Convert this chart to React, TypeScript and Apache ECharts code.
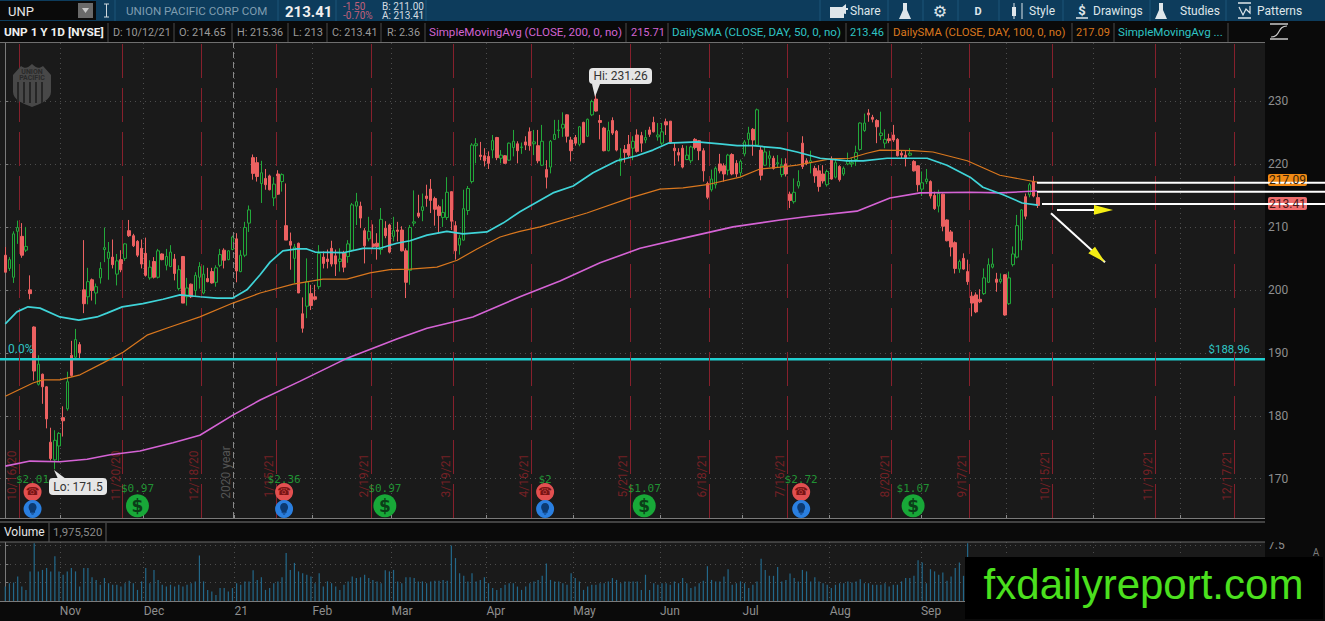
import React, { useEffect, useRef } from "react";
import * as echarts from "echarts";

// One row per trading session, in order: [open, close, low, high]
const ohlc: number[][] = [
[205.5,202.8,202.8,206.8],[203.4,204.8,203,205.2],[202,208.9,201.1,209.3],[209.3,209.9,207.3,211],[208.5,205.5,205.1,210.6],[206.3,206.9,206,210],[200,199.4,198.5,202.3],[194.1,187.1,185.6,194.2],[185,188.2,184.8,189.6],[186.6,184.6,181.9,186.7],
[184.6,179.5,178,184.7],[175.8,173.2,172.9,178.1],[173,176.1,171.5,177.7],[175.2,177.2,172.8,177.4],[179.7,179.2,176.7,181.5],[181.1,185.4,180.8,187],[189.6,186.4,186.2,191.9],[189.3,192.1,189,193.8],[191.3,190,188.9,191.7],[200,197.8,196.3,207.9],
[198.9,201.3,197.7,203.5],[201.6,199.9,198.3,201.8],[199.5,200.5,197.7,201],[201.9,203.4,201,204.4],[206.4,206.7,204.4,209.9],[205,206,201.6,207.6],[205.2,204,203.4,208],[202.5,204.6,200.7,205.7],[204.8,203.2,202.8,206.3],[205,207.3,204.6,207.4],
[209.4,208.6,208.4,211.1],[208.6,207,206.8,208.9],[207.7,205.5,205.2,207.9],[206.6,204.1,203.4,208],[205.8,202.3,202.1,208.3],[201.9,203.6,201.6,204.7],[204.5,202,201.8,205.2],[202,206.2,201.8,206.5],[205.7,204.8,204.7,205.8],[203.9,205.3,203.1,206.5],
[203.7,206,203.6,207.1],[204.9,202.6,201.5,205.7],[200.2,203.2,199.9,203.9],[205.3,197.9,197.9,205.3],[198.9,200.3,197.5,201.9],[200.9,198.9,198.7,201],[199.9,202.3,199,202.8],[202,203.7,200.2,204.4],[199.5,202.5,199.3,203.9],[201.8,201.3,201.2,203.5],
[202.9,201.1,201,203.5],[201.2,203.5,200.5,203.9],[203.9,205.6,203.6,206.5],[206.3,204.7,203.4,206.6],[204.8,206.2,204.7,206.3],[206.4,208.4,206.3,208.6],[208.1,203,201.2,209],[202.9,205.5,202.8,206.3],[205.5,209.9,205.2,210.8],[210.6,212.7,209.2,213.4],
[221,218.5,217.5,221.5],[220.2,218,217.2,221.1],[216.9,218.6,213.8,220.5],[217.7,216.7,215.9,219.2],[218.1,215.9,215.8,218.3],[214.6,216.8,213.3,217.9],[218.4,215.2,215.1,219],[217.2,218.3,215.6,218.5],[210.2,207.9,207.9,216.9],[207.7,207.1,203.2,209.1],
[205,206.8,201.1,207.3],[207.4,199.5,199.5,207.5],[196.2,193.9,193.2,198.8],[197.4,201.3,195.5,205],[199.4,197.5,196.8,200.8],[198.9,198.5,198.3,200.8],[200.5,205.8,200.1,207.1],[205.2,204.2,203.4,206.1],[204.9,204.5,203.4,206.4],[206.6,204.1,203.7,207.8],
[205.4,204.1,202.2,206.4],[204.5,204.9,202.9,206.6],[205.9,203.6,202.8,206.2],[205.3,207.3,204.3,207.9],[206.3,213.5,206.1,213.8],[213.3,214,210.3,215.4],[213.3,211.4,209.8,214],[209.4,207,204.2,209.8],[208.1,209.3,207.7,211.6],[207.3,206.9,206.6,210.4],
[207.4,206.9,204.8,209],[206.4,211.2,205.6,213],[209.8,208.6,208.2,210.9],[210.3,206,205.8,210.5],[208.5,209.4,207.7,211.6],[209.5,209.3,207.7,210.8],[209.5,206.2,206.1,210.1],[206.2,201.2,198.7,206.6],[203.1,209.9,200.8,210.3],[210.6,210.8,210.1,215.8],
[212.2,211.7,211.4,215.1],[212.6,213.2,210.9,215.3],[214.9,214.5,213.2,216.7],[216,214.2,212.2,217.6],[214.5,212.8,210.2,214.8],[213.2,211.8,209,213.5],[211.5,212.3,210,214.4],[211.5,215.5,211.1,217.9],[215.6,210.9,209.5,215.6],[210.2,206.2,204.8,210.9],
[207.1,208.2,205.6,208.7],[207.9,212.9,207.8,215.9],[212.6,216.1,211.9,216.5],[217.2,223,216.9,223.3],[222.9,223.2,220.1,224.1],[221.4,221.2,220.6,223.5],[221.3,220.5,219.6,222.5],[221.2,220.1,219.2,222],[222.2,223.7,220.9,224.6],[224.2,221,220.6,224.3],
[220.9,221.4,220.1,222.2],[221.3,220.1,220,221.4],[220.6,223.3,220.5,223.4],[222.6,223.6,221.2,225.4],[223.2,222.1,220.1,223.6],[222.6,222.7,221.6,223.4],[223.5,223,222.2,224.4],[225.1,222.9,222.1,225.8],[223.2,223.5,221.4,225.4],[222.9,220.5,220.1,225.4],
[219.8,223.6,219.7,226.2],[219.1,217.9,216.1,220.6],[219.5,223.6,218.5,223.8],[223.9,224.7,223.8,227],[225.3,225.4,224.1,227],[225.7,226.3,224.3,228.2],[227.8,224.4,223.4,227.9],[223.8,222.1,220.4,224.3],[224.2,223.3,222.9,224.6],[223.1,225.9,222.8,226],
[226.6,223.4,223.3,226.7],[224.4,227.1,224.3,227.2],[227.8,229.9,227.6,230.2],[230.3,228.4,228.3,231.26],[226.9,226.6,223.9,227.8],[225.7,222.1,222,225.9],[222.1,225.3,222,226.7],[226.9,224.9,224.6,227.4],[225.2,222.2,222,225.4],[220.4,220.9,218.1,222.5],
[222.3,221.8,220.2,223],[223.1,221.4,221.1,224.6],[222.5,223.6,220.6,224.4],[224.6,222,221.8,225.5],[224.5,223.3,221.9,225.1],[223.8,224.2,223.3,225.4],[225.4,224.7,224.3,225.9],[226.6,225.1,225,227.5],[224.3,224.6,223.7,226.5],[223.3,225.1,223,226.5],
[226.7,226.2,224.6,227.2],[226.8,223.4,223.2,226.8],[222.5,222.1,219.7,223.3],[221.8,221.4,220.4,222.5],[222.5,219.5,219.3,223],[220.7,221.4,220.6,222.9],[220.5,222.7,220.1,222.9],[223.9,222.6,222.3,224.1],[223.7,222.1,220.6,223.8],[222.1,218.9,217.2,222.5],
[216.9,214.7,214.4,217.2],[215.9,217.6,215.6,219.1],[216.7,219.3,216.1,219.6],[220,218.9,218.5,221.6],[219.7,218.4,217.2,220.1],[219,221.4,218.2,221.6],[221.5,218.4,218.2,221.7],[220.1,218.4,217.9,220.6],[218.6,220.4,218,220.7],[221.6,223.5,221.2,223.8],
[223.9,224.9,222.8,225.9],[225.5,223.8,221.3,225.7],[223,228.6,222.8,228.8],[222.2,218.2,217.4,222.8],[219.8,221.9,219.7,222.8],[220.9,221.3,219.5,222.1],[220.9,219.3,219.1,221.3],[220,220.2,219.5,221.4],[218.3,219.8,217.9,220.9],[220,218.4,218,220.9],
[215.2,214.2,213,215.6],[214,215.5,213.7,217.7],[216.5,217.2,216.1,219],[223.3,219.6,219.2,224.4],[220.5,220.1,219.8,220.9],[220.2,220.5,218.5,222.1],[219.3,218.1,217,219.7],[218.9,216.4,215.6,219.8],[218.4,217.3,216.9,219.8],[216.7,218.8,216.4,219.1],
[220.7,217.6,217.5,221.2],[217.9,220.2,217.7,220.9],[219.6,217.5,217.2,219.8],[218.4,219.3,218.1,219.6],[220,220.5,219.8,221.8],[220,220.2,219.5,220.9],[220.7,221.8,219.7,222.9],[222.3,226.5,222.1,226.6],[225.3,226.5,225.1,228],[228.1,227.8,226.7,228.7],
[227.4,227.1,226.6,227.8],[226.9,225.9,223.3,227.1],[224.5,224.9,223.8,228.3],[223.3,223.9,222.5,225.5],[224,223.7,223.3,224.8],[224.6,223.8,223.5,226.2],[223.9,221.3,221.2,224.1],[221.7,221.4,220.9,222.2],[221.4,221,219.6,222.2],[221.4,221.7,221.2,222.5],
[220.4,218.9,218.8,220.6],[219.7,216.7,215.6,219.8],[216,217,214.9,218.8],[217.2,217.6,216.8,219.2],[217.2,214.9,214.5,217.4],[215,212.9,212.7,215.6],[213.3,215.3,212.3,215.9],[215.2,210.1,209.3,215.3],[211.1,207.8,207.7,211.2],[209.2,206.8,205.3,209.5],
[207.5,203.4,202.6,207.7],[203.3,204.5,202.7,204.8],[205,203.3,203.2,205.8],[202.9,201.3,200.8,204.8],[199,197.9,195.8,199.7],[199.2,196.5,196.3,199.6],[198.5,198.1,197.9,200.1],[199.4,201.9,199.2,203.4],[201.2,204,201.1,205],[203.6,204.1,203.4,206.6],
[201.7,201.2,199.7,202.7],[201.3,201.7,201,202.6],[202.4,196,195.9,202.5],[197.8,201.9,197.6,202.9],[204,205.7,203.7,206.9],[205.2,210.2,205,211.9],[207.9,212.7,206.3,212.8],[214.8,211.7,211.2,215.3],[215.1,216.7,214.7,217],[217.2,214.9,214.7,218.1],
[214.65,213.41,213,215.36],
];

// Volume in millions of shares, one value per session
const volumeM: number[] = [
1.95,2.4,2.5,3.3,1.95,1.5,4,7.8,4,4.2,4.45,4,6.05,4,3.55,4,4.45,4,1.95,4.45,
4.45,3.2,2.85,2.2,3.1,2.4,2.2,2.2,1.95,2.4,2.75,2.4,1.5,2.65,4.45,2.4,4.2,2.85,2.2,1.95,
2.2,1.95,2.2,1.95,2.2,2.4,2.65,6.15,2.65,1.5,1.3,0.8,1.75,1.75,1.3,1.75,2.4,2.2,2.65,2.65,
4.15,2.85,3.2,1.5,1.75,2.4,2.65,3.2,6.5,4.2,5.15,4,3.75,3.55,3.3,2.4,3.75,1.95,2.65,2.4,
1.95,1.5,
2.2,2.65,3.3,3.1,3.2,3.55,3.1,2.85,2.65,2.4,4.15,4,4.2,2.65,2.4,3.2,3.2,3.1,2.65,2.65,
2.4,2.65,2.75,2.75,2.85,2.75,7.5,5.8,3.75,3.4,2.65,3.75,2.65,2.85,3.2,2.4,1.75,1.5,1.75,2.2,
2.4,2.4,1.95,1.5,1.95,2.4,2.65,2.85,3.4,5.05,2.85,2.65,2.65,2.4,2.2,3.75,3.1,2.65,1.5,1.95,
2.2,2.2,2.4,2.4,2.65,3.1,2.85,2.4,2.65,2.65,2.65,2.65,1.5,3.55,1.5,2.4,2.2,2.4,2.4,2.2,
2.65,2.4,
3.1,2.4,1.75,1.95,2.4,2.75,4.7,2.85,2.65,2.65,3.3,4.3,2.2,2.4,2.65,2.4,1.75,2.2,2.65,5.7,
4.2,3.4,3.4,4.6,2.65,2.85,3.7,3.1,2.65,4.2,4,2.65,3.2,2.65,2.4,2.2,1.75,2.2,2.4,2.4,
2.65,2.5,2.65,2.95,2.4,2.4,2.2,2.2,2.2,2.4,1.95,2.2,2.2,2.65,3.1,3.1,3.4,5.5,5.2,2.4,
4.3,4,3.55,3.85,2.75,3.3,4.45,5.2,3.4,7.8,
3.1,2.9,2.8,2.5,2.3,2.2,2.4,3,2.6,2.3,2.6,3,2.7,2.4,2.2,2.3,1.98,
];

// Moving averages, read as [session index, price]
const sma50: number[][] = [[0,194.6],[2.8,196.5],[5.5,197.3],[8.4,197.1],[13.2,195.7],[17.8,195.2],[22.2,195.7],[24.6,196.3],[28.3,197.3],[33.3,197.8],[38.2,198.5],[42.3,199.2],[47.1,198.9],[51.3,198.7],[55.1,198.7],[58.5,200],[61.7,202.4],[64.1,204.4],[67.2,206.2],[70.6,206.5],[73,206.5],[75,206],[81.8,205.9],[86.6,206.6],[90.7,206.6],[94.8,207.4],[98,207.8],[102.1,208.7],[106.9,209.3],[110.8,208.9],[116.6,209.2],[120.5,210.6],[124.6,212.4],[132.6,215.4],[137.5,216.5],[142.3,218.6],[148.1,220.5],[152.9,221.3],[156.8,222.2],[160.5,223.3],[167.5,223.5],[173,223.2],[177.2,222.9],[181,222.9],[187.6,222.5],[191.7,221.9],[197.3,220.9],[203.8,220.5],[207.7,220.5],[213.5,220.9],[223.2,220.9],[228,219.8],[233.6,217.9],[236.7,216.3],[241.6,215.1],[246.2,213.8],[250,213.46]];
const sma100: number[][] = [[0,183.1],[6.7,185.2],[9.1,185.7],[13.2,185.7],[18.1,186.5],[23.7,188.4],[28.5,190.1],[34.3,192.8],[39.9,194.1],[47.1,195.7],[55.1,197.9],[61.7,199.5],[69.7,200.9],[76.9,201.7],[82.7,201.7],[88.3,202.7],[93.1,203.2],[98,203.3],[104.5,203.6],[109.4,204.7],[114.2,206.5],[119.8,208.4],[124.6,209.3],[129.5,210],[140.8,212.2],[151.3,214.6],[158.5,216],[164.1,216.2],[169.9,216.7],[177.9,217.9],[182.7,219.2],[187.6,219.5],[191.7,219.8],[195.6,220.3],[199.7,220.8],[204.5,220.9],[208.6,221.7],[211.8,222.2],[219.8,222.1],[224.6,221.9],[232.9,220.5],[240.8,218.2],[250,217.09]];
const sma200: number[][] = [[0,172],[6,172.8],[13.2,172.7],[19.8,173.1],[25.4,173.8],[32.6,174.4],[40.6,175.7],[47.1,176.9],[55.1,180.1],[61.7,182.5],[71.4,185.5],[82.3,189],[94.8,192.2],[102.1,193.9],[108.4,194.9],[113.2,195.7],[124.6,198.9],[134.3,201.4],[144,204.3],[153.7,206.6],[163.4,208.1],[176.2,210],[187.6,211.1],[194.8,211.7],[206.2,212.5],[214.2,214.6],[221.5,215.4],[233.6,215.5],[240.8,215.4],[249.8,215.71]];

const fibLevel = 188.96;
const priceTicks = [170, 180, 190, 200, 210, 220, 230];
const volumeTicks = [2.5, 5, 7.5];
const volumeLabels = [7.5];

const monthIdx = [13.2, 33.5, 55.5, 74.4, 93.5, 116.5, 137.5, 158.5, 178.5, 199.6, 221.7, 242.3, 263.4, 284.5];
const monthNames = ["Nov", "Dec", "21", "Feb", "Mar", "Apr", "May", "Jun", "Jul", "Aug", "Sep", "Oct", "Nov", "Dec"];
const visibleMonths = 11;

const expiryIdx = [3.3, 28.4, 47.4, 65.5, 88.5, 108.5, 127.3, 151.3, 170.5, 189.3, 214.6, 233.4, 253.5, 278.4, 297.6];
const expiryNames = ["10/16/20", "11/20/20", "12/18/20", "1/15/21", "2/19/21", "3/19/21", "4/16/21", "5/21/21", "6/18/21", "7/16/21", "8/20/21", "9/17/21", "10/15/21", "11/19/21", "12/17/21"];
const yearIdx = 55.1;

const earningsIdx = [6.6, 67.5, 130.7, 192.7];
const earningsAmount = ["$2.01", "$2.36", "$2", "$2.72"];
const dividendIdx = [32, 91.9, 154.7, 219.8];
const dividendAmount = ["$0.97", "$0.97", "$1.07", "$1.07"];

const XMIN = -1.283;
const XMAX = 305;
const UI = "Roboto, sans-serif";
const BULB = "path://M12 1C7 1 4 5 4 9c0 3 2 5 3 7v3h10v-3c1-2 3-4 3-7 0-4-3-8-8-8zM9 20h6v1H9zM10 22h4v1h-4z";

const SHIELD = "M1 12 L9 3 C13 6 16 5 20 1 C24 5 27 6 31 3 L39 12 L39 29 C39 37 28 41 20 44 C12 41 1 37 1 29 Z";
echarts.graphic.registerShape("upShield", (echarts.graphic as any).extendPath(SHIELD, {}));

const T = (x: number, y: number, text: string, fill: string, font: string, align = "left") => ({
  type: "text", x, y, z: 60, silent: true,
  style: { text, fill, font, textAlign: align, textVerticalAlign: "middle", align, verticalAlign: "middle" },
});
const R = (x: number, y: number, width: number, height: number, fill: string, r = 0, z = 55) => ({
  type: "rect", z, silent: true, shape: { x, y, width, height, r }, style: { fill },
});
const L = (x1: number, y1: number, x2: number, y2: number, stroke: string, lineWidth = 1, z = 56) => ({
  type: "line", z, silent: true, shape: { x1, y1, x2, y2 }, style: { stroke, lineWidth },
});
const P = (points: number[][], fill: string, z = 58) => ({
  type: "polygon", z, silent: true, shape: { points }, style: { fill },
});

function chrome(): any[] {
  const g: any[] = [];
  // top toolbar
  g.push(R(0, 0, 1325, 21, "#0d3c5c"));
  g.push(R(0, 1, 96, 19, "#0a0a0a"));
  g.push(T(8, 11, "UNP", "#e6e6e6", `13px ${UI}`));
  g.push(R(78, 3, 15, 15, "#6a6a6a"));
  g.push(P([[82, 8], [89, 8], [85.5, 13]], "#c8c8c8"));
  g.push(R(104, 4, 5, 14, "#0d3c5c"));
  g.push(L(104, 4, 109, 4, "#cfd8dd"), L(104, 17, 109, 17, "#cfd8dd"), L(106.5, 4, 106.5, 17, "#cfd8dd"));
  g.push(T(126, 11, "UNION PACIFIC CORP COM", "#7f9cb0", `11.6px ${UI}`));
  g.push(T(285, 12, "213.41", "#f0f0f0", `bold 15px ${UI}`));
  g.push(T(343, 6, "-1.50", "#c0607a", `10px ${UI}`));
  g.push(T(343, 15, "-0.70%", "#c0607a", `10px ${UI}`));
  g.push(T(382, 6, "B: 211.00", "#d5dde2", `10px ${UI}`));
  g.push(T(382, 15, "A: 213.41", "#d5dde2", `10px ${UI}`));
  [115, 278, 336, 426, 820, 888, 923, 958, 999, 1063, 1150, 1226].forEach((x) => g.push(L(x, 0, x, 21, "#1c5478")));
  // toolbar buttons
  const w = "#dfe6ea";
  g.push(R(830, 7, 14, 11, w), P([[836, 12], [846, 4], [846, 8], [848, 8], [848, 10], [846, 10], [846, 14]], w));
  g.push(T(850, 11, "Share", w, `12px ${UI}`));
  const flask = (x: number) => P([[x - 2, 3], [x + 2, 3], [x + 2, 10], [x + 6, 19], [x - 6, 19], [x - 2, 10]], w);
  g.push(flask(905));
  g.push(T(940, 11, "\u2699", w, "16px 'DejaVu Sans'", "center"));
  g.push(T(978, 11, "D", w, `bold 11px ${UI}`, "center"));
  g.push(R(1012, 7, 4, 9, w), L(1014, 3, 1014, 19, w), R(1020, 6, 4, 9, "#0d3c5c"), L(1022, 3, 1022, 19, w));
  g.push(T(1029, 11, "Style", w, `12px ${UI}`));
  g.push(T(1082, 10, "$", w, `bold 13px ${UI}`, "center"), L(1076, 18, 1088, 18, w, 1.5));
  g.push(T(1093, 11, "Drawings", w, `12px ${UI}`));
  g.push(flask(1161));
  g.push(T(1180, 11, "Studies", w, `12px ${UI}`));
  g.push(L(1238, 3, 1251, 3, w, 1.5), { type: "polyline", z: 58, silent: true, shape: { points: [[1239, 7], [1243, 15], [1246, 9], [1250, 13], [1250, 6]] }, style: { stroke: w, fill: "none", lineWidth: 1.2 } }, L(1238, 18, 1251, 18, w, 1.5));
  g.push(T(1257, 11, "Patterns", w, `12px ${UI}`));

  // study header row
  g.push(R(0, 21, 1325, 22, "#0a0a0a"));
  g.push(L(0, 42.5, 1265, 42.5, "#6f6f6f"));
  const grey = "#9a9a9a";
  const row = 32;
  g.push(T(4, row, "UNP 1 Y 1D [NYSE]", "#efefef", `bold 11.8px ${UI}`));
  const items: [number, string, string, number][] = [
    [113, "D: 10/12/21", grey, 10.8], [179, "O: 214.65", grey, 11], [237, "H: 215.36", grey, 10.8], [293, "L: 213", grey, 11], [332, "C: 213.41", grey, 10.8], [387, "R: 2.36", grey, 10.8],
    [429, "SimpleMovingAvg (CLOSE, 200, 0, no)", "#d264d2", 11.6], [631, "215.71", "#d264d2", 11],
    [672, "DailySMA (CLOSE, DAY, 50, 0, no)", "#2fc4c4", 11.6], [850, "213.46", "#2fc4c4", 11],
    [893, "DailySMA (CLOSE, DAY, 100, 0, no)", "#d9771e", 11.4], [1076, "217.09", "#d9771e", 11],
    [1118, "SimpleMovingAvg ...", "#2fc4c4", 11.6],
  ];
  items.forEach(([x, s, c, size]) => g.push(T(x, row, s, c, `${size}px ${UI}`)));
  [108, 174, 232, 288, 327, 381, 425, 626, 668, 846, 888, 1072, 1114, 1228].forEach((x) => g.push(L(x, 23, x, 42, "#4a4a4a")));
  g.push(L(1270, 24, 1288, 24, "#c8c8c8", 1.5), L(1270, 39, 1288, 39, "#c8c8c8", 1.5));
  g.push({ type: "bezierCurve", z: 58, silent: true, shape: { x1: 1271, y1: 37, x2: 1287, y2: 26, cpx1: 1281, cpy1: 37, cpx2: 1277, cpy2: 26 }, style: { stroke: "#c8c8c8", fill: "none", lineWidth: 1.2 } });

  // shield logo
  g.push({ type: "upShield", z: 20, silent: true, x: 12, y: 63, scaleX: 1, scaleY: 1, style: { fill: "#484848" } });
  [18, 24, 30, 36, 42].forEach((x) => g.push(L(x, 82, x, 103, "#262626", 2, 21)));
  g.push(T(32, 72, "UNION", "#2a2a2a", `bold 7px ${UI}`, "center"), T(32, 78, "PACIFIC", "#2a2a2a", `bold 7px ${UI}`, "center"));

  // hi / lo callouts
  g.push(P([[592, 84], [600, 84], [595, 97]], "#e6e6e6"), R(589, 68, 63, 16, "#e6e6e6", 4, 58));
  g.push(T(620.5, 76, "Hi: 231.26", "#333333", `12px ${UI}`, "center"));
  g.push(P([[54, 470], [58, 479], [66, 479]], "#e6e6e6"), R(49, 478, 58, 17, "#e6e6e6", 4, 58));
  g.push(T(78, 486.5, "Lo: 171.5", "#333333", `12px ${UI}`, "center"));

  // fib labels
  g.push(T(8, 349, "0.0%", "#2fc4c4", `12px ${UI}`));
  g.push(T(1250, 349, "$188.96", "#2fc4c4", `11.4px ${UI}`, "right"));

  // price flags
  g.push(R(1268, 174, 39, 12, "#f28a14", 2), T(1287.5, 180, "217.09", "#3a2408", `12px ${UI}`, "center"));
  g.push(R(1268, 197, 39, 13, "#ef6e6e", 2), T(1287.5, 204, "213.41", "#4a1818", `12px ${UI}`, "center"));

  // drawn levels and arrows
  g.push(L(1037, 182.7, 1325, 182.7, "#ffffff", 2, 59), L(1037, 191.7, 1325, 191.7, "#ffffff", 2, 59), L(1042, 204, 1325, 204, "#ffffff", 2, 59));
  g.push(L(1057, 210, 1096, 210, "#ffffff", 2, 59), P([[1094, 205], [1113, 210], [1094, 214.7]], "#f5ee14", 60));
  g.push(L(1051, 213.3, 1105, 262.3, "#ffffff", 2, 59), P([[1095, 246.7], [1088.3, 253.3], [1105, 262.3]], "#f5ee14", 60));

  // panel separators and volume header
  g.push(R(0, 519, 1325, 23, "#0a0a0a", 0, 30));
  g.push(L(0, 518.5, 1265, 518.5, "#7a7a7a", 1, 31), L(0, 522, 1265, 522, "#7a7a7a", 1, 31), L(0, 542, 1265, 542, "#6a6a6a", 1, 31));
  g.push(T(4, 532, "Volume", "#e6e6e6", `12px ${UI}`));
  g.push(T(53, 532, "1,975,520", "#8a8a8a", `11.4px ${UI}`));
  g.push(L(49, 523, 49, 542, "#5a5a5a", 1, 31), L(106, 523, 106, 542, "#5a5a5a", 1, 31));
  g.push(T(1316, 552, "A", "#7a7a7a", `10px ${UI}`, "center"));

  // watermark
  g.push(R(965, 557, 358, 62, "#000000", 0, 70));
  g.push({ ...T(1143.5, 584, "fxdailyreport.com", "#4be01e", "42px 'Liberation Sans'", "center"), z: 71 });
  return g;
}

export default function App() {
  const ref = useRef<HTMLDivElement>(null);
  useEffect(() => {
    document.body.style.margin = "0";
    document.body.style.overflow = "hidden";
    const chart = echarts.init(ref.current!, undefined, { renderer: "svg" });
    const candleData = ohlc.map((r, i) => [i, r[0], r[1], r[2], r[3]]);
    const dotted = { show: true, lineStyle: { color: "#4d4d4d", type: [1, 4] as any, width: 1 } };
    const mkLine = (data: number[][], color: string, width: number, name: string) => ({
      name, type: "line", data, xAxisIndex: 0, yAxisIndex: 0, showSymbol: false, symbol: "none", z: 5,
      lineStyle: { color, width }, silent: true,
    });
    const iconLabel = (text: string, color: string, size: number) => ({
      show: true, position: "inside", formatter: text, color, fontSize: size, fontFamily: "'DejaVu Sans'", fontWeight: "bold",
    });
    const amountLabels = (idx: number[], amount: string[], price: number) => ({
      type: "scatter", xAxisIndex: 0, yAxisIndex: 0, symbolSize: 0, z: 8, silent: true,
      data: idx.map((x, i) => ({ value: [x, price], label: { formatter: amount[i] } })),
      label: { show: true, position: "inside", color: "#22b33a", fontSize: 11, fontFamily: "'DejaVu Sans Mono'" },
    });
    chart.setOption({
      animation: false,
      backgroundColor: "#0a0a0a",
      graphic: { elements: chrome() },
      grid: [
        { left: 0, right: 60, top: 43, height: 475, show: true, backgroundColor: "#1a1a1a", borderWidth: 0 },
        { left: 0, right: 60, top: 542, height: 59, show: true, backgroundColor: "#1a1a1a", borderWidth: 0 },
      ],
      xAxis: [
        {
          type: "value", gridIndex: 0, min: XMIN, max: XMAX, scale: true,
          axisLine: { show: false }, axisLabel: { show: false },
          axisTick: { show: true, inside: true, length: 3, customValues: monthIdx, lineStyle: { color: "#8a8a8a" } },
          splitLine: dotted,
        },
        {
          type: "value", gridIndex: 1, min: XMIN, max: XMAX, scale: true,
          axisLine: { show: true, lineStyle: { color: "#7a7a7a" } },
          axisTick: { show: false, customValues: monthIdx },
          axisLabel: {
            show: true, customValues: monthIdx.slice(0, visibleMonths), align: "left", color: "#8e8e8e", fontSize: 12, fontFamily: UI, margin: 4,
            showMinLabel: true, showMaxLabel: true, hideOverlap: false,
            formatter: (v: number) => monthNames[monthIdx.indexOf(v)] ?? "",
          },
          splitLine: dotted,
        },
      ],
      yAxis: [
        {
          type: "value", gridIndex: 0, position: "right", min: 163.76, max: 239.21, scale: true,
          axisLine: { show: true, lineStyle: { color: "#7a7a7a" } },
          axisTick: { show: true, length: 3, customValues: priceTicks, lineStyle: { color: "#7a7a7a" } },
          axisLabel: { show: true, customValues: priceTicks, color: "#8e8e8e", fontSize: 12, fontFamily: UI, margin: 3, formatter: (v: number) => String(v) },
          splitLine: dotted,
        },
        {
          type: "value", gridIndex: 1, position: "right", min: 0, max: 7.97, scale: true,
          axisLine: { show: true, lineStyle: { color: "#7a7a7a" } },
          axisTick: { show: true, length: 3, customValues: volumeTicks, lineStyle: { color: "#7a7a7a" } },
          axisLabel: { show: true, customValues: volumeLabels, color: "#8e8e8e", fontSize: 12, fontFamily: UI, margin: 3, formatter: (v: number) => String(v) },
          splitLine: dotted,
        },
      ],
      series: [
        {
          name: "Expiries", type: "line", xAxisIndex: 0, yAxisIndex: 0, data: [], z: 1, silent: true,
          markLine: {
            silent: true, symbol: "none", animation: false, label: { show: false },
            lineStyle: { color: "#86202c", type: [34, 10] as any, width: 1 },
            data: expiryIdx.map((x) => ({ xAxis: x })),
          },
        },
        {
          name: "Year", type: "line", xAxisIndex: 0, yAxisIndex: 0, data: [], z: 1, silent: true,
          markLine: {
            silent: true, symbol: "none", animation: false, label: { show: false },
            lineStyle: { color: "#8a8a8a", type: [6, 4] as any, width: 1 },
            data: [{ xAxis: yearIdx }],
          },
        },
        {
          name: "Expiry labels", type: "scatter", xAxisIndex: 0, yAxisIndex: 0, symbolSize: 0, z: 2, silent: true,
          data: expiryIdx.map((x, i) => ({ value: [x, 170.5], label: { formatter: expiryNames[i] } })),
          label: { show: true, position: "inside", rotate: 90, offset: [0, -7], color: "#8c2228", fontSize: 12, fontFamily: UI },
        },
        {
          name: "Year label", type: "scatter", xAxisIndex: 0, yAxisIndex: 0, symbolSize: 0, z: 2, silent: true,
          data: [{ value: [yearIdx, 171], label: { formatter: "2020 year" } }],
          label: { show: true, position: "inside", rotate: 90, offset: [0, -7], color: "#646464", fontSize: 12, fontFamily: UI },
        },
        {
          name: "Fib", type: "line", xAxisIndex: 0, yAxisIndex: 0, showSymbol: false, symbol: "none", z: 4, silent: true,
          data: [[XMIN, fibLevel], [XMAX, fibLevel]], lineStyle: { color: "#20cfd0", width: 2.5 },
        },
        {
          name: "UNP", type: "candlestick", xAxisIndex: 0, yAxisIndex: 0, data: candleData, barWidth: 3, z: 3, silent: true,
          itemStyle: { color: "#1a1a1a", color0: "#ec6161", borderColor: "#22a83a", borderColor0: "#ec6161", borderWidth: 1 },
        },
        mkLine(sma200, "#d563d5", 1.6, "SMA200"),
        mkLine(sma100, "#d9771e", 1.2, "SMA100"),
        mkLine(sma50, "#3fd4d8", 1.7, "SMA50"),
        amountLabels(earningsIdx, earningsAmount, 169.8),
        amountLabels(dividendIdx, dividendAmount, 168.4),
        {
          name: "Earnings", type: "scatter", xAxisIndex: 0, yAxisIndex: 0, symbol: "circle", symbolSize: 18, z: 8, silent: true,
          data: earningsIdx.map((x) => [x, 167.9]), itemStyle: { color: "#e25050", opacity: 1 },
          label: iconLabel("\u260E", "#7a1414", 11),
        },
        {
          name: "Ideas", type: "scatter", xAxisIndex: 0, yAxisIndex: 0, symbol: "circle", symbolSize: 18, z: 8, silent: true,
          data: earningsIdx.map((x) => [x, 165.2]), itemStyle: { color: "#2a7fe0", opacity: 1 },
        },
        {
          name: "Bulb", type: "scatter", xAxisIndex: 0, yAxisIndex: 0, symbol: BULB, symbolSize: [8, 12], z: 9, silent: true,
          data: earningsIdx.map((x) => [x, 165.2]), itemStyle: { color: "#0c3a72", opacity: 1 },
        },
        {
          name: "Dividends", type: "scatter", xAxisIndex: 0, yAxisIndex: 0, symbol: "circle", symbolSize: 23, z: 8, silent: true,
          data: dividendIdx.map((x) => [x, 165.7]), itemStyle: { color: "#18a838", opacity: 1 },
          label: iconLabel("$", "#0b3d18", 17),
        },
        {
          name: "Volume", type: "bar", xAxisIndex: 1, yAxisIndex: 1, barWidth: 1.2, silent: true,
          data: volumeM.map((v, i) => [i, v]), itemStyle: { color: "#23688a" },
        },
      ],
    });
    return () => chart.dispose();
  }, []);
  return <div ref={ref} style={{ width: 1325, height: 621 }} />;
}
